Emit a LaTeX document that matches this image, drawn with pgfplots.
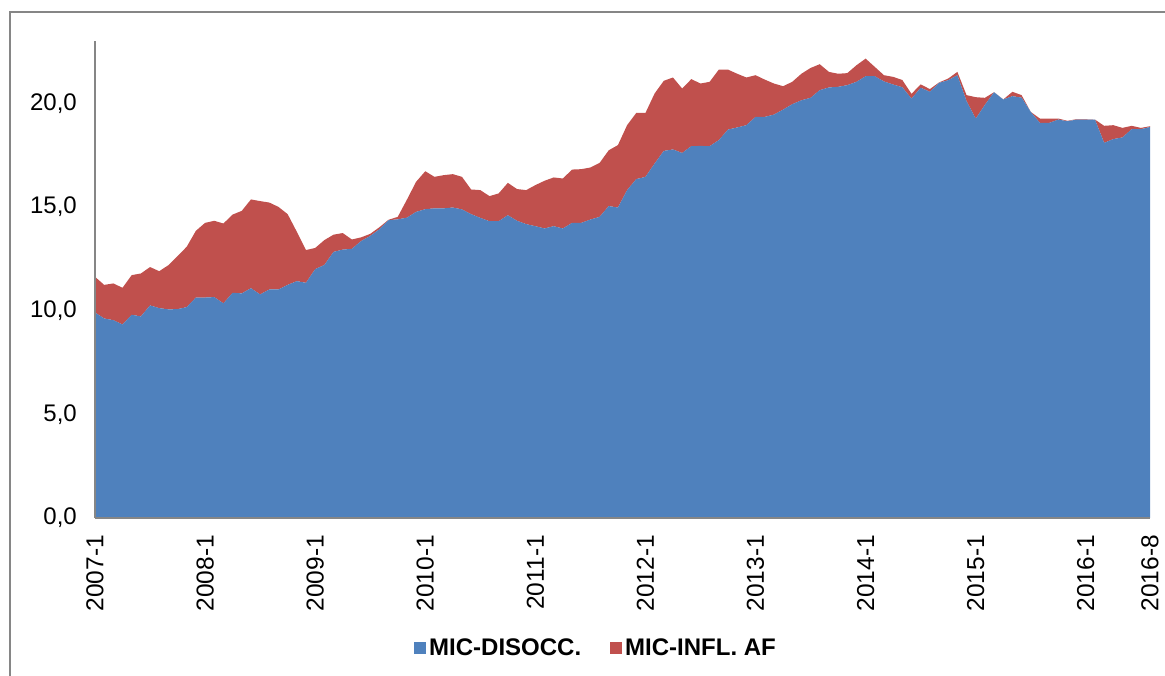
\documentclass[border=0pt]{standalone}
\usepackage{pgfplots}
\pgfplotsset{compat=1.18}
\usepackage{pgfplotstable}
\usepackage{fontspec}
\setmainfont{Liberation Sans}
\definecolor{cblue}{HTML}{4F81BD}
\definecolor{cred}{HTML}{C0504D}
\definecolor{cgray}{HTML}{868686}
\pgfplotstableread{
i blue red
0 9.91 1.72
1 9.62 1.62
2 9.54 1.77
3 9.33 1.77
4 9.80 1.91
5 9.72 2.07
6 10.25 1.85
7 10.12 1.78
8 10.06 2.13
9 10.07 2.56
10 10.17 2.91
11 10.63 3.22
12 10.63 3.60
13 10.65 3.68
14 10.35 3.85
15 10.86 3.77
16 10.83 3.98
17 11.08 4.28
18 10.78 4.50
19 11.02 4.19
20 11.02 3.98
21 11.24 3.41
22 11.42 2.38
23 11.34 1.58
24 12.00 1.02
25 12.20 1.20
26 12.83 0.83
27 12.94 0.80
28 12.98 0.45
29 13.35 0.18
30 13.60 0.10
31 13.92 0.10
32 14.36 0.02
33 14.40 0.12
34 14.48 0.87
35 14.76 1.45
36 14.89 1.83
37 14.93 1.52
38 14.93 1.60
39 14.97 1.61
40 14.88 1.57
41 14.65 1.19
42 14.47 1.34
43 14.31 1.21
44 14.31 1.34
45 14.60 1.56
46 14.33 1.53
47 14.17 1.64
48 14.07 1.98
49 13.96 2.30
50 14.07 2.35
51 13.96 2.41
52 14.23 2.57
53 14.23 2.59
54 14.39 2.51
55 14.52 2.60
56 15.04 2.69
57 14.97 3.01
58 15.81 3.13
59 16.34 3.19
60 16.45 3.08
61 17.09 3.38
62 17.70 3.38
63 17.77 3.47
64 17.60 3.11
65 17.93 3.23
66 17.94 3.01
67 17.93 3.10
68 18.22 3.40
69 18.73 2.89
70 18.83 2.59
71 18.94 2.30
72 19.34 2.01
73 19.34 1.80
74 19.45 1.50
75 19.69 1.13
76 19.95 1.08
77 20.14 1.28
78 20.26 1.44
79 20.63 1.25
80 20.76 0.75
81 20.79 0.63
82 20.87 0.58
83 21.03 0.80
84 21.30 0.85
85 21.30 0.45
86 21.05 0.30
87 20.90 0.37
88 20.77 0.35
89 20.22 0.23
90 20.75 0.16
91 20.55 0.13
92 20.98 0.02
93 21.11 0.08
94 21.35 0.16
95 20.10 0.29
96 19.26 1.03
97 19.92 0.34
98 20.53 0.00
99 20.18 0.00
100 20.34 0.21
101 20.27 0.12
102 19.58 0.00
103 19.05 0.21
104 19.05 0.21
105 19.21 0.05
106 19.13 0.02
107 19.21 0.02
108 19.21 0.02
109 19.21 0.00
110 18.09 0.82
111 18.27 0.67
112 18.35 0.46
113 18.75 0.16
114 18.75 0.06
115 18.85 0.04
}\mydata
\begin{document}
\begin{tikzpicture}[x=1pt,y=1pt]
\useasboundingbox (0,0) rectangle (1165,676);
\draw[cgray, line width=1.5pt] (10,0) -- (10,664) -- (1165,664);
\begin{axis}[
  at={(95pt,158pt)}, anchor=south west,
  scale only axis, width=1055pt, height=477pt,
  xmin=0, xmax=115, ymin=0, ymax=23,
  stack plots=y,
  axis on top,
  axis x line*=bottom, axis y line*=left,
  axis line style={cgray, line width=1.5pt, -},
  xtick={0,12,24,36,48,60,72,84,96,108,115},
  xticklabels={2007-1,2008-1,2009-1,2010-1,2011-1,2012-1,2013-1,2014-1,2015-1,2016-1,2016-8},
  ytick={0,5,10,15,20},
  yticklabels={{0,0},{5,0},{10,0},{15,0},{20,0}},
  tick style={draw=none},
  xticklabel style={rotate=90, anchor=east, inner sep=0pt, font=\fontsize{24.5}{28}\selectfont},
  yticklabel style={anchor=east, inner sep=0pt, font=\fontsize{24}{28}\selectfont},
  xticklabel shift=17pt,
  yticklabel shift=18pt,
  legend columns=2,
  legend style={at={(0.4754,-0.2725)}, anchor=center, draw=none, fill=none,
    font=\bfseries\fontsize{24}{28}\selectfont,
    nodes={inner sep=3pt},
    /tikz/every even column/.append style={column sep=26pt}},
]
\addplot[fill=cblue, draw=none,
  legend image code/.code={\fill[cblue] (0pt,-6pt) rectangle (12pt,6pt);}]
  table[x=i, y=blue] {\mydata} \closedcycle;
\addlegendentry{MIC-DISOCC.}
\addplot[fill=cred, draw=none,
  legend image code/.code={\fill[cred] (0pt,-6pt) rectangle (12pt,6pt);}]
  table[x=i, y=red] {\mydata} \closedcycle;
\addlegendentry{MIC-INFL. AF}
\end{axis}
\end{tikzpicture}
\end{document}
